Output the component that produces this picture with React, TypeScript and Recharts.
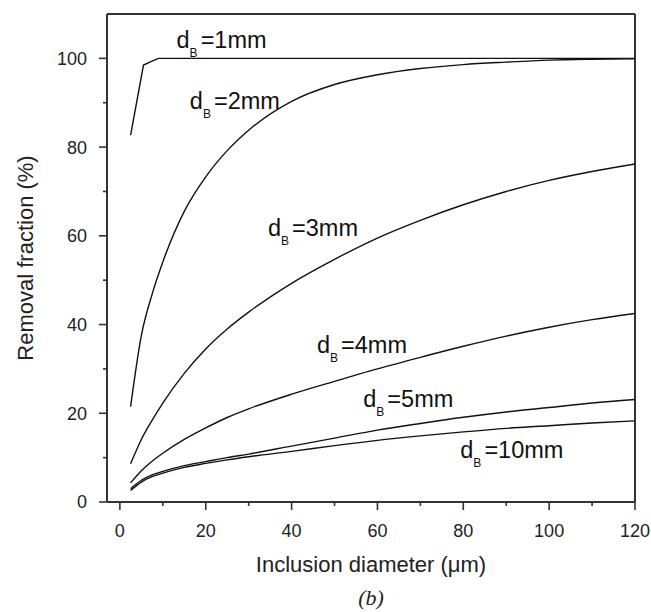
import React from 'react';
import { LineChart, Line, XAxis, YAxis, ReferenceLine, ReferenceDot } from 'recharts';

// Inclusion diameter grid (um) shared by the smooth curves
const diam = [2.5, 5, 7.5, 10, 15, 20, 25, 30, 40, 50, 60, 70, 80, 90, 100, 110, 120];

// Removal fraction (%) for each bubble diameter
const diam1mm = [2.5, 5.5, 7.5, 9, 120];
const removal1mm = [82.7, 98.5, 99.4, 100, 100];
const removal2mm = [21.5, 37.5, 46.8, 54.1, 65.5, 73.3, 79.2, 83.8, 90.3, 94.1, 96.3, 97.7, 98.6, 99.15, 99.6, 99.8, 99.9];
const removal3mm = [8.6, 14.1, 18.4, 22.3, 29, 34.5, 39, 42.8, 49.3, 54.7, 59.5, 63.5, 67, 70, 72.5, 74.5, 76.2];
const removal4mm = [4.3, 7.05, 9.2, 11, 14.1, 16.7, 19.05, 21, 24.3, 27.2, 30, 32.6, 35.1, 37.4, 39.4, 41.1, 42.5];
const removal5mm = [3.0, 4.9, 6.1, 6.9, 8.2, 9.1, 10, 10.8, 12.6, 14.4, 16.2, 17.7, 19.1, 20.3, 21.3, 22.3, 23.1];
const removal10mm = [2.6, 4.5, 5.7, 6.5, 7.8, 8.7, 9.5, 10.2, 11.4, 12.7, 13.9, 14.9, 15.8, 16.6, 17.2, 17.8, 18.3];

const xTicks = [0, 10, 20, 30, 40, 50, 60, 70, 80, 90, 100, 110, 120];
const yTicks = [0, 10, 20, 30, 40, 50, 60, 70, 80, 90, 100];

// curve labels, anchored at the left of "d" on the text baseline (data coords)
const curveLabels = [
  { size: '1mm', x: 13.2, y: 102.4 },
  { size: '2mm', x: 16.3, y: 88.5 },
  { size: '3mm', x: 34.5, y: 59.9 },
  { size: '4mm', x: 45.9, y: 33.6 },
  { size: '5mm', x: 56.7, y: 21.5 },
  { size: '10mm', x: 79.3, y: 9.9 },
];

const toPoints = (xs: number[], ys: number[]) => xs.map((d, i) => ({ d, v: ys[i] }));

const series = [
  { key: '1mm', data: toPoints(diam1mm, removal1mm), type: 'linear' as const },
  { key: '2mm', data: toPoints(diam, removal2mm), type: 'monotone' as const },
  { key: '3mm', data: toPoints(diam, removal3mm), type: 'monotone' as const },
  { key: '4mm', data: toPoints(diam, removal4mm), type: 'monotone' as const },
  { key: '5mm', data: toPoints(diam, removal5mm), type: 'monotone' as const },
  { key: '10mm', data: toPoints(diam, removal10mm), type: 'monotone' as const },
];

const AXIS = '#333';
const FONT = '"Liberation Sans", Arial, Helvetica, sans-serif';

const XTick = ({ x, y, payload }: any) => {
  const major = payload.value % 20 === 0;
  return (
    <g>
      <line x1={x} y1={y} x2={x} y2={y + (major ? 8 : 4)} stroke={AXIS} strokeWidth={1.6} />
      {major && (
        <text x={x} y={y + 35} textAnchor="middle" fontSize={18} fill="#222" fontFamily={FONT}>
          {payload.value}
        </text>
      )}
    </g>
  );
};

const YTick = ({ x, y, payload }: any) => {
  const major = payload.value % 20 === 0;
  return (
    <g>
      <line x1={x} y1={y} x2={x - (major ? 8 : 4)} y2={y} stroke={AXIS} strokeWidth={1.6} />
      {major && (
        <text x={x - 20} y={y} dy="0.36em" textAnchor="end" fontSize={18} fill="#222" fontFamily={FONT}>
          {payload.value}
        </text>
      )}
    </g>
  );
};

const CurveLabel = ({ cx, cy, size }: any) => (
  <text x={cx} y={cy} fontSize={23.5} fill="#111" fontFamily={FONT}>
    d
    <tspan dy={9} fontSize={12}>B</tspan>
    <tspan dy={-9} dx={3} fontSize={23.5}>={size}</tspan>
  </text>
);

export default function App() {
  return (
    <div style={{ position: 'absolute', left: 0, top: 0, width: 651, height: 612, background: '#fff', fontFamily: FONT }}>
      <LineChart width={651} height={612} margin={{ top: 14, right: 16, bottom: 80, left: 47 }}>
        <XAxis
          type="number"
          dataKey="d"
          domain={[-3, 120]}
          ticks={xTicks}
          interval={0}
          height={30}
          tickSize={0}
          tickMargin={0}
          tickLine={false}
          tick={<XTick />}
          axisLine={{ stroke: AXIS, strokeWidth: 2 }}
          allowDataOverflow
        />
        <YAxis
          type="number"
          domain={[0, 110]}
          ticks={yTicks}
          interval={0}
          width={60}
          tickSize={0}
          tickMargin={0}
          tickLine={false}
          tick={<YTick />}
          axisLine={{ stroke: AXIS, strokeWidth: 2 }}
          allowDataOverflow
        />
        <ReferenceLine y={110} stroke={AXIS} strokeWidth={2} />
        <ReferenceLine x={120} stroke={AXIS} strokeWidth={2} />
        {series.map((s) => (
          <Line
            key={s.key}
            data={s.data}
            dataKey="v"
            type={s.type}
            stroke="#111"
            strokeWidth={1.4}
            dot={false}
            isAnimationActive={false}
          />
        ))}
        {curveLabels.map((l) => (
          <ReferenceDot
            key={l.size}
            x={l.x}
            y={l.y}
            r={0}
            shape={(p: any) => <CurveLabel {...p} size={l.size} />}
          />
        ))}
      </LineChart>
      <div
        style={{
          position: 'absolute',
          left: 26,
          top: 258,
          transform: 'translate(-50%, -50%) rotate(-90deg)',
          whiteSpace: 'nowrap',
          fontSize: 22,
          color: '#222',
        }}
      >
        Removal fraction (%)
      </div>
      <div
        style={{
          position: 'absolute',
          left: 371,
          top: 565,
          transform: 'translate(-50%, -50%)',
          whiteSpace: 'nowrap',
          fontSize: 22,
          color: '#222',
        }}
      >
        Inclusion diameter (μm)
      </div>
      <div
        style={{
          position: 'absolute',
          left: 371,
          top: 598,
          transform: 'translate(-50%, -50%)',
          whiteSpace: 'nowrap',
          fontSize: 22,
          fontStyle: 'italic',
          fontFamily: '"Liberation Serif", "Times New Roman", serif',
          color: '#222',
        }}
      >
        (b)
      </div>
    </div>
  );
}
